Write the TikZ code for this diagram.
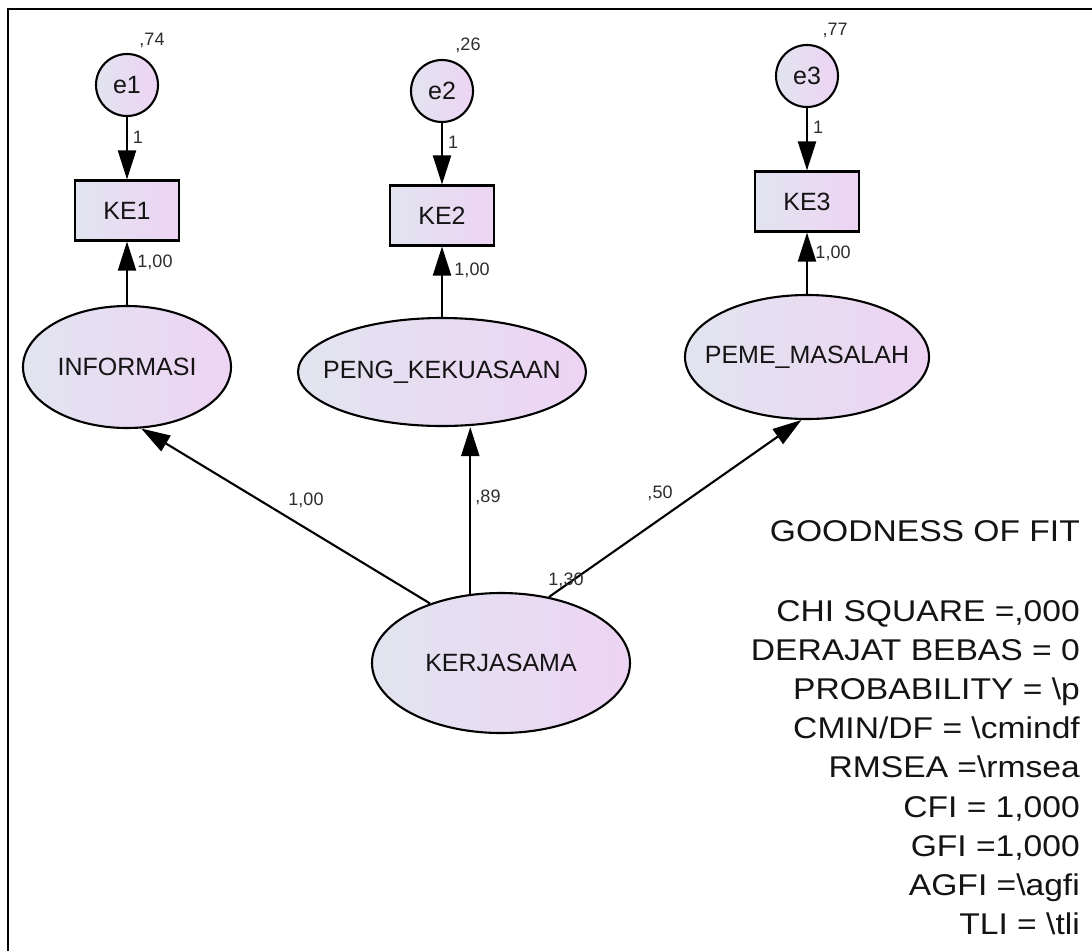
\documentclass[tikz,border=0pt]{standalone}
\usepackage{fontspec}
\usepackage{graphicx}
\setmainfont{Liberation Sans}
\usetikzlibrary{shapes.geometric,arrows.meta}
\definecolor{fillL}{RGB}{226,228,240}
\definecolor{fillR}{RGB}{237,212,243}
\definecolor{txt}{RGB}{20,20,20}
\definecolor{lbltxt}{RGB}{45,45,45}
\newcommand{\mb}[1]{\makebox[0pt]{#1}}
\newcommand{\gofline}[1]{\scalebox{1.12}[1]{#1}}
\tikzset{
  shapebase/.style={draw=black, line width=2.1pt, left color=fillL, right color=fillR, inner sep=0pt, text=txt, font=\fontsize{25}{30}\selectfont},
  lat/.style={shapebase, ellipse},
  obs/.style={shapebase, rectangle, minimum width=104pt, minimum height=60pt},
  err/.style={shapebase, circle, minimum size=62pt},
  arr/.style={line width=2.1pt, -{Triangle[length=29pt,width=18pt]}},
  lbl/.style={font=\fontsize{18}{21}\selectfont, text=lbltxt, inner sep=0pt},
  gof/.style={font=\fontsize{30}{36}\selectfont, text=txt, anchor=base east, inner sep=0pt},
}
\begin{document}
\begin{tikzpicture}[x=1pt,y=-1pt]
\useasboundingbox (0,0) rectangle (1092,951);
\fill[white] (0,0) rectangle (1092,951);
% frame
\draw[line width=2.2pt] (8,951) -- (8,9) -- (1092,9);

% error terms
\node[err] (e1) at (127,85) {e1};
\node[err] (e2) at (442,91) {e2};
\node[err] (e3) at (807,76) {e3};

% observed
\node[obs] (KE1) at (127,210.5) {KE1};
\node[obs] (KE2) at (442,215.5) {KE2};
\node[obs] (KE3) at (807,201.5) {KE3};

% latent
\node[lat, minimum width=208pt, minimum height=122pt] (INF) at (127,367) {\mb{INFORMASI}};
\node[lat, minimum width=288pt, minimum height=108pt] (PENG) at (442,372) {\mb{PENG\_KEKUASAAN}};
\node[lat, minimum width=244pt, minimum height=124pt] (PEME) at (807,357) {\mb{PEME\_MASALAH}};
\node[lat, minimum width=258pt, minimum height=140pt] (K) at (501,663) {\mb{KERJASAMA}};

% arrows
\draw[arr] (e1) -- (KE1);
\draw[arr] (e2) -- (KE2);
\draw[arr] (e3) -- (KE3);
\draw[arr] (INF) -- (KE1);
\draw[arr] (PENG) -- (KE2);
\draw[arr] (PEME) -- (KE3);
\draw[arr] (K.140) -- (INF.-77);
\draw[arr] (K.114) -- (K.114 |- PENG.south);
\draw[arr] (K.54) -- (PEME.-95);

% labels
\node[lbl] (v1) at (152,40) {,74};
\node[lbl] (v2) at (468,45) {,26};
\node[lbl] (v3) at (835,30) {,77};
\node[lbl] (w1) at (138,137) {1};
\node[lbl] (w2) at (453,142) {1};
\node[lbl] (w3) at (818,127) {1};
\node[lbl] (l1) at (155,262) {1,00};
\node[lbl] (l2) at (472,270) {1,00};
\node[lbl] (l3) at (833,253) {1,00};
\node[lbl] (p1) at (306,500) {1,00};
\node[lbl] (p2) at (488,497) {,89};
\node[lbl] (p3) at (660,493) {,50};
\node[lbl] (vk) at (566,580) {1,30};

% goodness of fit
\node[gof] (g0) at (1080,541) {\gofline{GOODNESS OF FIT}};
\node[gof] (g1) at (1080,621) {\gofline{CHI SQUARE =,000}};
\node[gof] (g2) at (1080,660.2) {\gofline{DERAJAT BEBAS = 0}};
\node[gof] (g3) at (1080,699.4) {\gofline{PROBABILITY = \textbackslash p}};
\node[gof] (g4) at (1080,738.6) {\gofline{CMIN/DF = \textbackslash cmindf}};
\node[gof] (g5) at (1080,777.8) {\gofline{RMSEA =\textbackslash rmsea}};
\node[gof] (g6) at (1080,817) {\gofline{CFI = 1,000}};
\node[gof] (g7) at (1080,856.2) {\gofline{GFI =1,000}};
\node[gof] (g8) at (1080,895.4) {\gofline{AGFI =\textbackslash agfi}};
\node[gof] (g9) at (1080,934.6) {\gofline{TLI = \textbackslash tli}};
\end{tikzpicture}
\end{document}
